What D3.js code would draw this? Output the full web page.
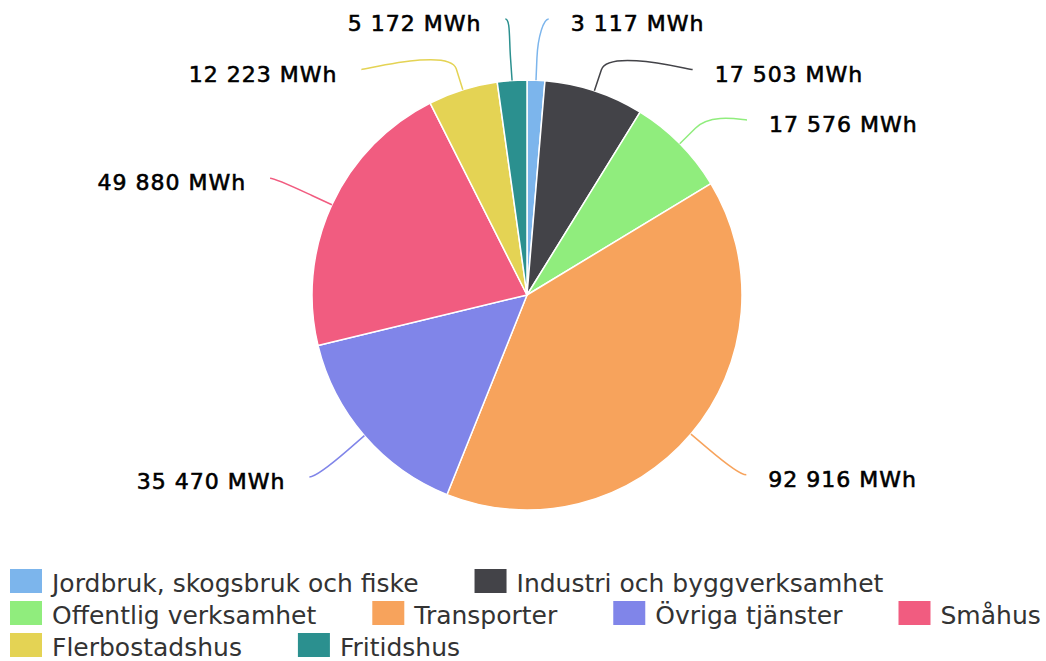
<!DOCTYPE html>
<html>
<head>
<meta charset="utf-8">
<script src="https://cdn.jsdelivr.net/npm/d3@7"></script>
<style>
  body { margin: 0; background: #fff; }
  svg { display: block; font-family: "DejaVu Sans", sans-serif; }
</style>
</head>
<body>
<div id="chart"></div>
<script>
const categories = [
  "Jordbruk, skogsbruk och fiske",
  "Industri och byggverksamhet",
  "Offentlig verksamhet",
  "Transporter",
  "Övriga tjänster",
  "Småhus",
  "Flerbostadshus",
  "Fritidshus"
];
const values = [3117, 17503, 17576, 92916, 35470, 49880, 12223, 5172];
const colors = ["#7cb5ec", "#434348", "#90ed7d", "#f7a35c", "#8085e9", "#f15c80", "#e4d354", "#2b908f"];

const width = 1046, height = 661;
const cx = 527, cy = 295, radius = 215;
const labelRadius = 278;   // natural label anchor
const xRadius = 278.5;     // circle the connectors end on
const breakOffset = 22;    // connector straight part
const boxSize = 50.5;      // label slot height
const topLimit = 19;

const svg = d3.select("#chart")
  .append("svg")
  .attr("width", width)
  .attr("height", height);

const fmt = d3.formatLocale({ decimal: ",", thousands: " ", grouping: [3], currency: ["", ""] }).format(",d");

const pie = d3.pie().sort(null).value(d => d)(values);
const arc = d3.arc().innerRadius(0).outerRadius(radius);

const graph = svg.append("g").attr("transform", `translate(${cx}, ${cy})`);

graph.selectAll("path.slice")
  .data(pie)
  .enter()
  .append("path")
  .attr("class", "slice")
  .attr("d", arc)
  .attr("fill", (d, i) => colors[i])
  .attr("stroke", "#fff")
  .attr("stroke-width", 1.5)
  .attr("stroke-linejoin", "round");

// label layout, roughly the way highcharts spreads them
const labels = pie.map((d, i) => {
  const a = (d.startAngle + d.endAngle) / 2;
  return {
    i: i,
    angle: a,
    right: a < Math.PI,
    target: -Math.cos(a) * labelRadius
  };
});

function distribute(list) {
  list.sort((a, b) => a.target - b.target);
  let groups = list.map(l => ({ items: [l], targets: [l.target] }));
  const minPos = topLimit - cy - boxSize / 2;
  let overlapping = true;
  while (overlapping) {
    groups.forEach(g => {
      const t = (d3.min(g.targets) + d3.max(g.targets)) / 2;
      g.size = g.items.length * boxSize;
      g.pos = Math.max(minPos, t - g.size / 2);
    });
    overlapping = false;
    for (let k = groups.length - 1; k > 0; k--) {
      const a = groups[k - 1], b = groups[k];
      if (a.pos + a.size > b.pos) {
        a.items = a.items.concat(b.items);
        a.targets = a.targets.concat(b.targets);
        groups.splice(k, 1);
        overlapping = true;
      }
    }
  }
  groups.forEach(g => {
    g.items.forEach((l, k) => { l.y = g.pos + boxSize * (k + 0.5); });
  });
}

distribute(labels.filter(l => l.right));
distribute(labels.filter(l => !l.right));

labels.forEach(l => {
  const dy = Math.max(-xRadius, Math.min(xRadius, l.y - 2));
  const dx = Math.sqrt(xRadius * xRadius - dy * dy) + 5;
  l.x = l.right ? dx : -dx;
});

graph.selectAll("path.connector")
  .data(labels)
  .enter()
  .append("path")
  .attr("class", "connector")
  .attr("fill", "none")
  .attr("stroke", d => colors[d.i])
  .attr("stroke-width", 1.5)
  .attr("d", d => {
    const sx = Math.sin(d.angle), sy = -Math.cos(d.angle);
    const touch = [sx * radius, sy * radius];
    const brk = [sx * (radius + breakOffset), sy * (radius + breakOffset)];
    const p = d3.path();
    p.moveTo(d.x, d.y);
    p.bezierCurveTo(d.x + (d.right ? -5 : 5), d.y,
      2 * brk[0] - touch[0], 2 * brk[1] - touch[1],
      brk[0], brk[1]);
    p.lineTo(touch[0], touch[1]);
    return p.toString();
  });

graph.selectAll("text.label")
  .data(labels)
  .enter()
  .append("text")
  .attr("class", "label")
  .attr("x", d => d.right ? d.x + 22 : d.x - 24)
  .attr("y", d => d.y + 12)
  .attr("text-anchor", d => d.right ? "start" : "end")
  .attr("font-size", "22px")
  .attr("letter-spacing", "1px")
  .attr("fill", "#000")
  .attr("stroke", "#000")
  .attr("stroke-width", 0.6)
  .text(d => fmt(values[d.i]) + " MWh");

// legend, flowing left to right
const legend = svg.append("g").attr("class", "legend");
const symW = 32, symH = 24, symGap = 10, itemGap = 56, rowH = 32;
const legendLeft = 10, legendRight = 1046, legendTop = 569;

const items = legend.selectAll("g.item")
  .data(categories)
  .enter()
  .append("g")
  .attr("class", "item");

items.append("rect")
  .attr("width", symW)
  .attr("height", symH)
  .attr("fill", (d, i) => colors[i]);

items.append("text")
  .attr("x", symW + symGap)
  .attr("y", 22.5)
  .attr("font-size", "25px")
  .attr("fill", "#333333")
  .text(d => d);

let lx = legendLeft, row = 0;
items.each(function () {
  const w = symW + symGap + this.querySelector("text").getComputedTextLength();
  if (lx > legendLeft && lx + w > legendRight) {
    lx = legendLeft;
    row += 1;
  }
  d3.select(this).attr("transform", `translate(${lx}, ${legendTop + row * rowH})`);
  lx += w + itemGap;
});
</script>
</body>
</html>
